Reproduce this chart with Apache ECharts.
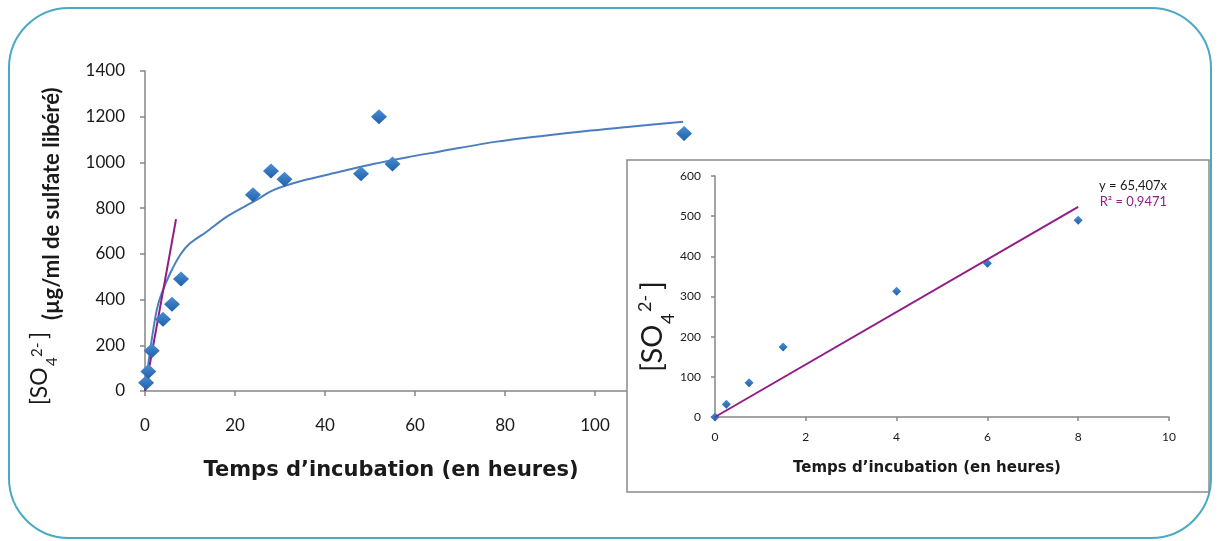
<!DOCTYPE html>
<html>
<head>
<meta charset="utf-8">
<script src="https://cdn.jsdelivr.net/npm/echarts@6/dist/echarts.min.js"></script>
<style>
html,body{margin:0;padding:0;background:#fff;}
#chart{width:1218px;height:541px;}
</style>
</head>
<body>
<div id="chart"></div>
<script>
// ---- Data ----
const mainTime = [0.25, 0.75, 1.5, 4, 6, 8, 24, 28, 31, 48, 52, 55, 119.8];
const mainSO4  = [36, 85, 176, 314, 380, 490, 859, 962, 926, 950, 1200, 993, 1127];

const fitTime = [0, 1.1, 2.6, 3.7, 5.6, 7.8, 10, 13.7, 18.2, 24.8, 28.5, 35.9, 43.3, 50.7, 58.1, 65.6, 78.1, 93, 107.8, 119.6];
const fitSO4  = [0, 172, 354, 427, 515, 595, 646, 697, 763, 836, 879, 925, 959, 993, 1022, 1048, 1091, 1127, 1156, 1178];

const mainLinTime = [0, 6.9];
const mainLinSO4  = [0, 752];

const insetTime = [0, 0.25, 0.75, 1.5, 4, 6, 8];
const insetSO4  = [0, 32, 85, 174, 313, 383, 490];

const insetLinTime = [0, 8];
const insetLinSO4  = [0, 523];

const mainXTicks = {min: 0, max: 120, interval: 20};
const mainYTicks = {min: 0, max: 1400, interval: 200};
const insetXTicks = {min: 0, max: 10, interval: 2};
const insetYTicks = {min: 0, max: 600, interval: 100};

const xTitle = 'Temps d\u2019incubation (en heures)';
const yUnit = '(\u00b5g/ml de sulfate lib\u00e9r\u00e9)';
const eqText = 'y = 65,407x';
const r2Text = 'R\u00b2 = 0,9471';

const zip = (a, b) => a.map((v, i) => [v, b[i]]);

// ---- Styles ----
const axisGray = '#868686';
const labelCol = '#1a1a1a';
const markerBlue = new echarts.graphic.LinearGradient(0, 0, 0, 1, [
  {offset: 0, color: '#4a8fd6'}, {offset: 1, color: '#1f5fa8'}
]);
const purple = '#921c86';
const fitBlue = '#4a7ebf';
const plain = v => String(v);

function tText(text, x, y, font, fill, align, vAlign, z) {
  return {
    type: 'text', x: x, y: y, z: z || 0,
    style: {text: text, font: font, fill: fill,
      align: align, textAlign: align, verticalAlign: vAlign, textVerticalAlign: vAlign}
  };
}

const chart = echarts.init(document.getElementById('chart'), null, {renderer: 'canvas'});

const option = {
  backgroundColor: '#ffffff',
  animation: false,
  grid: [
    {left: 145, top: 71, width: 540, height: 320, containLabel: false},
    {left: 715, top: 176, width: 454, height: 241, containLabel: false, z: 10}
  ],
  xAxis: [
    {
      type: 'value', gridIndex: 0, min: mainXTicks.min, max: mainXTicks.max, interval: mainXTicks.interval,
      axisLine: {onZero: false, lineStyle: {color: axisGray, width: 1.5}},
      axisTick: {show: true, length: 5, lineStyle: {color: axisGray, width: 1.5}},
      axisLabel: {color: labelCol, fontSize: 17, fontFamily: 'Lato', margin: 26, formatter: plain},
      splitLine: {show: false}
    },
    {
      type: 'value', gridIndex: 1, min: insetXTicks.min, max: insetXTicks.max, interval: insetXTicks.interval, z: 10,
      axisLine: {onZero: false, lineStyle: {color: axisGray, width: 1.5}},
      axisTick: {show: true, length: 4, lineStyle: {color: axisGray, width: 1.5}},
      axisLabel: {color: labelCol, fontSize: 12, fontFamily: 'Lato', margin: 14, formatter: plain},
      splitLine: {show: false}
    }
  ],
  yAxis: [
    {
      type: 'value', gridIndex: 0, min: mainYTicks.min, max: mainYTicks.max, interval: mainYTicks.interval,
      axisLine: {show: true, onZero: false, lineStyle: {color: axisGray, width: 1.5}},
      axisTick: {show: true, length: 5, lineStyle: {color: axisGray, width: 1.5}},
      axisLabel: {color: labelCol, fontSize: 17, fontFamily: 'Lato', margin: 20, formatter: plain},
      splitLine: {show: false}
    },
    {
      type: 'value', gridIndex: 1, min: insetYTicks.min, max: insetYTicks.max, interval: insetYTicks.interval, z: 10,
      axisLine: {show: true, onZero: false, lineStyle: {color: axisGray, width: 1.5}},
      axisTick: {show: true, length: 4, lineStyle: {color: axisGray, width: 1.5}},
      axisLabel: {color: labelCol, fontSize: 12, fontFamily: 'Lato', margin: 14, formatter: plain},
      splitLine: {show: false}
    }
  ],
  series: [
    {
      type: 'line', xAxisIndex: 0, yAxisIndex: 0, data: zip(fitTime, fitSO4),
      showSymbol: false, symbol: 'none', smooth: 0.3, lineStyle: {color: fitBlue, width: 2}, z: 2
    },
    {
      type: 'line', xAxisIndex: 0, yAxisIndex: 0, data: zip(mainLinTime, mainLinSO4),
      showSymbol: false, symbol: 'none', lineStyle: {color: purple, width: 2}, z: 3
    },
    {
      type: 'scatter', xAxisIndex: 0, yAxisIndex: 0, data: zip(mainTime, mainSO4),
      symbol: 'diamond', symbolSize: [16, 15], itemStyle: {color: markerBlue, opacity: 1}, z: 4
    },
    {
      type: 'scatter', xAxisIndex: 1, yAxisIndex: 1, data: zip(insetTime, insetSO4),
      symbol: 'diamond', symbolSize: [9, 9], itemStyle: {color: markerBlue, opacity: 1}, z: 20
    },
    {
      type: 'line', xAxisIndex: 1, yAxisIndex: 1, data: zip(insetLinTime, insetLinSO4),
      showSymbol: false, symbol: 'none', lineStyle: {color: purple, width: 2}, z: 21
    }
  ],
  graphic: [
    // outer rounded frame
    {type: 'rect', z: 0, shape: {x: 9, y: 8, width: 1202, height: 530, r: 60},
      style: {fill: 'none', stroke: '#4aa9c4', lineWidth: 2}},
    // inset frame (covers main chart)
    {type: 'rect', z: 8, shape: {x: 627, y: 160, width: 582, height: 332},
      style: {fill: '#ffffff', stroke: '#8a8a8a', lineWidth: 1.5}},
    // main x title
    tText(xTitle, 391, 471, 'bold 21px "DejaVu Sans", sans-serif', '#1a1a1a', 'center', 'middle', 5),
    // inset x title
    tText(xTitle, 927, 468, 'bold 15px "DejaVu Sans", sans-serif', '#1a1a1a', 'center', 'middle', 12),
    // equation texts
    tText(eqText, 1167, 186, '13px Lato, sans-serif', '#1a1a1a', 'right', 'middle', 12),
    tText(r2Text, 1167, 202, '13px Lato, sans-serif', purple, 'right', 'middle', 12),
    // main y title (rotated group)
    {
      type: 'group', x: 0, y: 405, rotation: Math.PI / 2, z: 5,
      children: [
        tText('[SO', 0, 40, '23px Lato, sans-serif', '#1a1a1a', 'left', 'middle', 5),
        tText('4', 39, 52, '15px Lato, sans-serif', '#1a1a1a', 'left', 'middle', 5),
        tText('2-', 48, 37, '15px Lato, sans-serif', '#1a1a1a', 'left', 'middle', 5),
        tText(']', 66, 40, '23px Lato, sans-serif', '#1a1a1a', 'left', 'middle', 5),
        tText(yUnit, 85, 52, 'bold 22px Lato, sans-serif', '#1a1a1a', 'left', 'middle', 5)
      ]
    },
    // inset y title (rotated group)
    {
      type: 'group', x: 0, y: 372, rotation: Math.PI / 2, z: 12,
      children: [
        tText('[SO', 0, 653, '29px Lato, sans-serif', '#1a1a1a', 'left', 'middle', 12),
        tText('4', 48, 668, '18px Lato, sans-serif', '#1a1a1a', 'left', 'middle', 12),
        tText('2-', 60, 645, '18px Lato, sans-serif', '#1a1a1a', 'left', 'middle', 12),
        tText(']', 82, 653, '29px Lato, sans-serif', '#1a1a1a', 'left', 'middle', 12)
      ]
    }
  ]
};
chart.setOption(option);
</script>
</body>
</html>
